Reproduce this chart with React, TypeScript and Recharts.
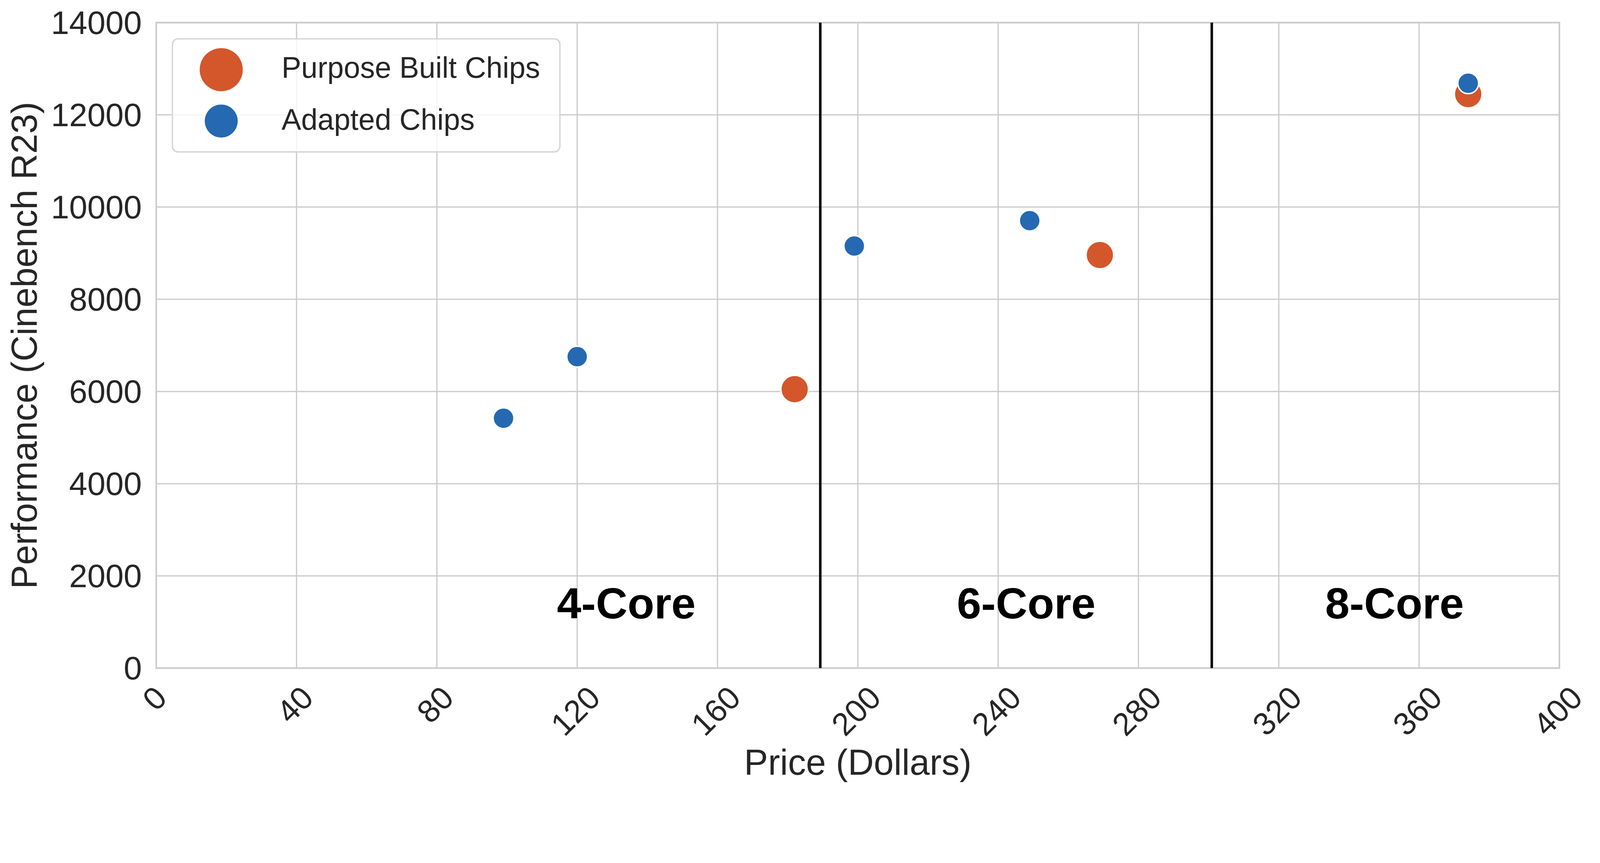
import React from 'react'
import {
  ScatterChart,
  Scatter,
  XAxis,
  YAxis,
  CartesianGrid,
  ReferenceLine,
  ReferenceArea,
  ReferenceDot,
  Legend,
  Label,
} from 'recharts'

// Series (price in dollars, Cinebench R23 score)
const purposePrices = [182, 269, 374]
const purposeScores = [6050, 8960, 12450]
const adaptedPrices = [99, 120, 199, 249, 374]
const adaptedScores = [5420, 6755, 9155, 9705, 12685]

const seriesNames = ['Purpose Built Chips', 'Adapted Chips']
const seriesColors = ['#d3572b', '#2469b2']

const priceTicks = [0, 40, 80, 120, 160, 200, 240, 280, 320, 360, 400]
const scoreTicks = [0, 2000, 4000, 6000, 8000, 10000, 12000, 14000]

// Core-count dividers and their labels
const dividerPrices = [189.3, 300.9]
const regionNames = ['4-Core', '6-Core', '8-Core']
const regionPrices = [134, 248, 353]
const regionScore = 1080

const purposeData = purposePrices.map((x, i) => ({ x, y: purposeScores[i] }))
const adaptedData = adaptedPrices.map((x, i) => ({ x, y: adaptedScores[i] }))

const W = 4455
const H = 2209
const FONT = "'Liberation Sans', Arial, Helvetica, sans-serif"
const TEXT = '#262626'

const PriceTick = (props: any) => {
  const { x, y, payload } = props
  const label = String(payload.value)
  const off = 84 + (label.length - 1) * 17.5
  const cx = x - 5
  const cy = y + off
  return (
    <text
      x={cx}
      y={cy}
      transform={`rotate(-45 ${cx} ${cy})`}
      textAnchor="middle"
      dominantBaseline="central"
      fontFamily={FONT}
      fontSize={89}
      fill={TEXT}
    >
      {label}
    </text>
  )
}

const ScoreTick = (props: any) => {
  const { x, y, payload } = props
  return (
    <text
      x={x - 40}
      y={y}
      textAnchor="end"
      dominantBaseline="central"
      fontFamily={FONT}
      fontSize={91}
      fill={TEXT}
    >
      {payload.value}
    </text>
  )
}

const dot = (r: number) => (props: any) => {
  const { cx, cy, fill } = props
  return <circle cx={cx} cy={cy} r={r} fill={fill} stroke="#ffffff" strokeWidth={4} />
}

const regionText = (name: string) => (props: any) => (
  <text
    x={props.cx}
    y={props.cy}
    textAnchor="middle"
    fontFamily={FONT}
    fontWeight="bold"
    fontSize={122}
    fill="#000000"
  >
    {name}
  </text>
)

const ChipLegend = () => (
  <svg width={1085} height={321} style={{ display: 'block' }}>
    <rect
      x={2}
      y={2}
      width={1079}
      height={315}
      rx={16}
      fill="#ffffff"
      fillOpacity={0.8}
      stroke="#d6d6d6"
      strokeWidth={4}
    />
    <circle cx={138} cy={88} r={60} fill={seriesColors[0]} />
    <circle cx={138} cy={231} r={46} fill={seriesColors[1]} />
    <text x={306} y={110} fontFamily={FONT} fontSize={82} fill={TEXT}>
      {seriesNames[0]}
    </text>
    <text x={306} y={255} fontFamily={FONT} fontSize={82} fill={TEXT}>
      {seriesNames[1]}
    </text>
  </svg>
)

const renderYLabel = (props: any) => {
  const { viewBox } = props
  const x = viewBox.x + 102
  const y = viewBox.y + viewBox.height / 2
  return (
    <text
      x={x}
      y={y}
      transform={`rotate(-90 ${x} ${y})`}
      textAnchor="middle"
      fontFamily={FONT}
      fontSize={100}
      fill={TEXT}
    >
      Performance (Cinebench R23)
    </text>
  )
}

const renderXLabel = (props: any) => {
  const { viewBox } = props
  return (
    <text
      x={viewBox.x + viewBox.width / 2}
      y={viewBox.y + 297}
      textAnchor="middle"
      fontFamily={FONT}
      fontSize={100}
      fill={TEXT}
    >
      Price (Dollars)
    </text>
  )
}

export default function App() {
  // the CSS viewport can be smaller than the photographed window (device pixel ratio),
  // so scale the fixed-size chart to fit, and keep it out of the page flow
  const vw = typeof window !== 'undefined' && window.innerWidth ? window.innerWidth : W
  const vh = typeof window !== 'undefined' && window.innerHeight ? window.innerHeight : H
  const k = Math.min(vw / W, vh / H)
  return (
    <div
      style={{
        position: 'fixed',
        left: 0,
        top: 0,
        width: '100vw',
        height: '100vh',
        overflow: 'hidden',
        background: '#ffffff',
      }}
    >
      <div
        style={{
          width: W,
          height: H,
          transform: `scale(${k})`,
          transformOrigin: '0 0',
        }}
      >
        <ScatterChart width={W} height={H} margin={{ top: 63, right: 113, left: 0, bottom: 0 }}>
          <CartesianGrid stroke="#cccccc" strokeWidth={3.5} />
          <XAxis
            type="number"
            dataKey="x"
            domain={[0, 400]}
            ticks={priceTicks}
            height={349}
            axisLine={false}
            tickLine={false}
            tickSize={0}
            tickMargin={0}
            tick={<PriceTick />}
            interval={0}
          >
            <Label content={renderXLabel} />
          </XAxis>
          <YAxis
            type="number"
            dataKey="y"
            domain={[0, 14000]}
            ticks={scoreTicks}
            width={435}
            axisLine={false}
            tickLine={false}
            tickSize={0}
            tickMargin={0}
            tick={<ScoreTick />}
            interval={0}
          >
            <Label content={renderYLabel} />
          </YAxis>
          <ReferenceArea
            x1={0}
            x2={400}
            y1={0}
            y2={14000}
            fill="none"
            stroke="#cccccc"
            strokeWidth={4.5}
          />
          {dividerPrices.map((p) => (
            <ReferenceLine key={p} x={p} stroke="#000000" strokeWidth={7} />
          ))}
          {regionNames.map((name, i) => (
            <ReferenceDot
              key={name}
              x={regionPrices[i]}
              y={regionScore}
              r={0}
              shape={regionText(name)}
            />
          ))}
          <Scatter
            name={seriesNames[0]}
            data={purposeData}
            fill={seriesColors[0]}
            shape={dot(38.5)}
            isAnimationActive={false}
          />
          <Scatter
            name={seriesNames[1]}
            data={adaptedData}
            fill={seriesColors[1]}
            shape={dot(29)}
            isAnimationActive={false}
          />
          <Legend
            layout="vertical"
            align="center"
            verticalAlign="middle"
            wrapperStyle={{ left: 478, top: 106, width: 1085, height: 321 }}
            content={() => <ChipLegend />}
          />
        </ScatterChart>
      </div>
    </div>
  )
}
